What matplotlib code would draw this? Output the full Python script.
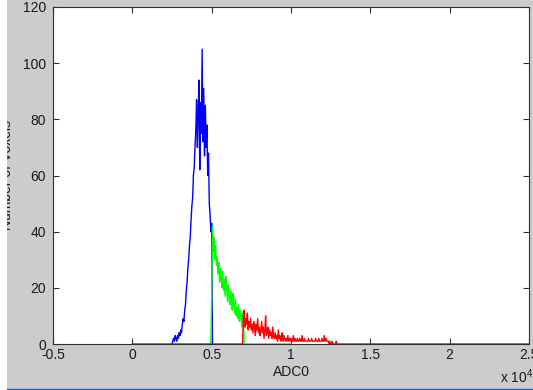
import numpy as np
import matplotlib
matplotlib.use("Agg")
import matplotlib.pyplot as plt
from matplotlib.patches import Rectangle
from matplotlib.lines import Line2D

plt.rcParams['font.family'] = ['Liberation Sans', 'DejaVu Sans']
plt.rcParams['mathtext.fontset'] = 'custom'
plt.rcParams['mathtext.rm'] = 'Liberation Sans'
plt.rcParams['mathtext.default'] = 'regular'

# ---- data (x in units of 10^4, bin step 0.005) ----
bin_step = 0.005

blue_start = 0.250
blue_counts = [0, 1, 2, 1, 3, 2, 1, 3, 2, 4,
               3, 5, 4, 7, 9, 8, 12, 14, 19, 22,
               27, 30, 35, 38, 44, 49, 52, 60, 63, 70,
               76, 87, 70, 82, 94, 62, 86, 75, 105, 72,
               91, 67, 85, 70, 78, 60, 68, 50, 46, 40,
               43, 0]

green_start = 0.495
green_counts = [0,
                17, 42, 33, 38, 30, 35, 28, 31, 25, 29,
                22, 27, 24, 20, 26, 19, 23, 17, 24, 20,
                15, 21, 17, 14, 19, 16, 12, 18, 14, 11,
                16, 10, 13, 9, 14, 8, 12, 10, 6, 11,
                9]
green_tail_end = 1.0

red_start = 0.0
red_active_start = 0.700
red_counts_active = [10, 12, 6, 9, 7, 11, 5, 8, 6, 9,
                     5, 7, 4, 8, 6, 3, 7, 5, 9, 4,
                     6, 3, 5, 8, 4, 6, 2, 5, 10, 3,
                     4, 6, 2, 5, 3, 4, 2, 6, 3, 2,
                     4, 2, 3, 1, 5, 2, 3, 1, 2, 4,
                     1, 3, 2, 1, 2, 1, 3, 1, 2, 1,
                     2, 1, 1, 3, 1, 2, 1, 1, 2, 1,
                     1, 2, 1, 1, 3, 1, 1, 2, 1, 1,
                     1, 1, 2, 1, 1, 1, 2, 1, 1, 1,
                     1, 2, 1, 1, 1, 2, 1, 1, 1, 2,
                     1, 1, 3, 1, 2, 1, 1, 1, 0, 1,
                     0, 0, 1, 0, 0, 0, 0, 1, 0, 0]
red_end = 2.5

x_ticks = [-0.5, 0, 0.5, 1, 1.5, 2, 2.5]
x_ticklabels = ['-0.5', '0', '0.5', '1', '1.5', '2', '2.5']
y_ticks = [0, 20, 40, 60, 80, 100, 120]

# ---- build series ----
bx = blue_start + bin_step * np.arange(len(blue_counts))
by = np.array(blue_counts, float)

n_g_tail = int(round((green_tail_end - (green_start + bin_step * (len(green_counts) - 1))) / bin_step))
gy = np.concatenate([green_counts, np.zeros(n_g_tail)])
gx = green_start + bin_step * np.arange(len(gy))

n_r_head = int(round((red_active_start - red_start) / bin_step))
n_r_tail = int(round((red_end - (red_active_start + bin_step * (len(red_counts_active) - 1))) / bin_step))
ry = np.concatenate([np.zeros(n_r_head), red_counts_active, np.zeros(n_r_tail)])
rx = red_start + bin_step * np.arange(len(ry))

# ---- figure ----
W, H = 533, 390
fig = plt.figure(figsize=(W / 100, H / 100), dpi=100, facecolor='#cccccc')
ax = fig.add_axes([53 / W, 1 - 344 / H, (529 - 53) / W, (344 - 7) / H])
ax.set_facecolor('white')

lw = 1.0
ax.plot(bx, by, color='#0000ff', lw=lw)
ax.plot(gx, gy, color='#00ff00', lw=lw)
ax.plot(rx, ry, color='#ff0000', lw=lw)

ax.set_xlim(-0.5, 2.5)
ax.set_ylim(0, 120)
ax.set_xticks(x_ticks)
ax.set_xticklabels(x_ticklabels)
ax.set_yticks(y_ticks)

for s in ax.spines.values():
    s.set_color('#303030')
    s.set_linewidth(0.8)
ax.tick_params(axis='both', direction='in', length=4, width=0.8, color='#303030',
               top=True, right=True, labelsize=10, labelcolor='#1a1a1a')
ax.tick_params(axis='x', pad=3)
ax.tick_params(axis='y', pad=5)

ax.set_xlabel('ADC0', fontsize=10, color='#1a1a1a')
ax.xaxis.set_label_coords(0.5, -0.063)
ax.xaxis.label.set_va('top')
ax.set_ylabel('Number of Voxels', fontsize=10, color='#1a1a1a')
ax.yaxis.set_label_coords((14 - 53) / 476, 0.5)

fig.text(500 / W, (390 - 383) / H, r'x 10$^{4}$', fontsize=10, color='#1a1a1a',
         ha='left', va='baseline')

# window framing: white strip at left, blue line at bottom
fig.add_artist(Rectangle((0, 0), 7 / W, 1, transform=fig.transFigure,
                         facecolor='white', edgecolor='none', zorder=20))
fig.add_artist(Line2D([7 / W, 1], [0.8 / H, 0.8 / H], transform=fig.transFigure,
                      color='#2060c8', lw=1, zorder=21))

fig.savefig('out.png', dpi=100, facecolor=fig.get_facecolor())
